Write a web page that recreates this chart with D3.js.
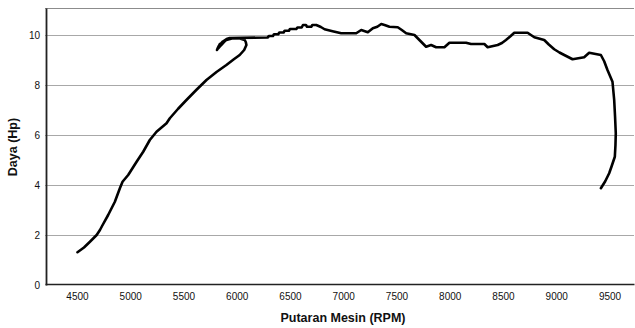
<!DOCTYPE html>
<html>
<head>
<meta charset="utf-8">
<script src="https://cdn.jsdelivr.net/npm/d3@7"></script>
<style>
  html, body { margin: 0; padding: 0; background: #fff; }
  svg { display: block; font-family: "Liberation Sans", Arial, sans-serif; }
</style>
</head>
<body>
<svg id="chart" width="635" height="328"></svg>
<script>
// Engine speed (RPM) and power (Hp), in the order they were logged
const rpm = [
  4505, 4566, 4622, 4685, 4716, 4741, 4793, 4856, 4903, 4928, 4981, 5060, 5122, 5184,
  5247, 5341, 5372, 5450, 5528, 5620, 5716, 5810, 5903, 5970, 6028, 6070, 6091, 6085,
  6075, 6030, 5963, 5903, 5841, 5815, 5822, 5831, 5860, 5887, 5910, 5880, 5850, 5826,
  5840, 5870, 5905, 5934,
  6290, 6303, 6340, 6350, 6390, 6400, 6440, 6450, 6490, 6500, 6560, 6570, 6610,
  6622, 6650, 6660, 6700, 6710, 6747,
  6790, 6825, 6900, 6981, 7122, 7169, 7231, 7278, 7320, 7357, 7388, 7434, 7512,
  7550, 7591, 7669, 7720, 7778, 7825, 7872, 7950, 7997, 8106, 8153, 8200, 8325,
  8356, 8450, 8490, 8528, 8570, 8606, 8731, 8794, 8887, 8930, 8981, 9030, 9075,
  9153, 9262, 9309, 9419, 9450, 9481, 9528, 9544, 9552, 9559, 9556, 9550, 9520,
  9497, 9460, 9419
];
const hp = [
  1.31, 1.50, 1.73, 2.00, 2.20, 2.40, 2.80, 3.33, 3.87, 4.13, 4.40, 4.93, 5.33, 5.80,
  6.13, 6.47, 6.67, 7.05, 7.40, 7.80, 8.20, 8.52, 8.80, 9.02, 9.20, 9.40, 9.60, 9.72,
  9.80, 9.86, 9.87, 9.80, 9.64, 9.40, 9.48, 9.56, 9.68, 9.76, 9.84, 9.72, 9.58, 9.46,
  9.60, 9.74, 9.84, 9.88,
  9.90, 9.96, 9.96, 10.03, 10.03, 10.10, 10.10, 10.17, 10.17, 10.24, 10.24, 10.30, 10.30,
  10.40, 10.40, 10.33, 10.33, 10.40, 10.40,
  10.32, 10.23, 10.15, 10.07, 10.07, 10.20, 10.11, 10.27, 10.33, 10.44, 10.40, 10.33, 10.31,
  10.20, 10.07, 10.00, 9.78, 9.53, 9.60, 9.51, 9.51, 9.69, 9.69, 9.69, 9.64, 9.64,
  9.51, 9.60, 9.68, 9.80, 9.95, 10.09, 10.09, 9.91, 9.80, 9.62, 9.43, 9.30, 9.20,
  9.03, 9.11, 9.29, 9.20, 8.95, 8.60, 8.13, 7.40, 6.75, 6.07, 5.60, 5.13, 4.75,
  4.47, 4.15, 3.87
];
const xTicks = [4500, 5000, 5500, 6000, 6500, 7000, 7500, 8000, 8500, 9000, 9500];
const yTicks = [0, 2, 4, 6, 8, 10];
const xTitle = "Putaran Mesin (RPM)";
const yTitle = "Daya (Hp)";

const svg = d3.select("#chart");
const plot = { left: 45, right: 634, top: 8, bottom: 285 };

const x = d3.scaleLinear().domain([4200, 9730]).range([plot.left, plot.right]);
const y = d3.scaleLinear().domain([0, 11.08]).range([plot.bottom, plot.top]);

// Horizontal grid lines and top border
svg.append("g")
  .selectAll("line")
  .data(yTicks.filter(d => d > 0))
  .join("line")
  .attr("x1", plot.left).attr("x2", plot.right)
  .attr("y1", d => Math.round(y(d)) + 0.5).attr("y2", d => Math.round(y(d)) + 0.5)
  .attr("stroke", "#a8a8a8").attr("stroke-width", 1);

svg.append("line")
  .attr("x1", plot.left).attr("x2", plot.right)
  .attr("y1", plot.top + 0.5).attr("y2", plot.top + 0.5)
  .attr("stroke", "#8c8c8c").attr("stroke-width", 1);

// Axes
const xAxis = svg.append("g")
  .attr("transform", `translate(0,${plot.bottom - 1})`)
  .call(d3.axisBottom(x).tickValues(xTicks).tickSize(0).tickPadding(9).tickFormat(d3.format("d")));
xAxis.select(".domain").attr("stroke", "#222").attr("stroke-width", 1.6);
xAxis.selectAll("text").attr("font-size", 10).attr("fill", "#111")
  .attr("font-family", "'Liberation Sans', Arial, sans-serif");

const yAxis = svg.append("g")
  .attr("transform", `translate(${plot.left + 1},0)`)
  .call(d3.axisLeft(y).tickValues(yTicks).tickSize(0).tickPadding(6).tickFormat(d3.format("d")));
yAxis.select(".domain").attr("stroke", "#222").attr("stroke-width", 1.8);
yAxis.selectAll("text").attr("font-size", 10).attr("fill", "#111")
  .attr("font-family", "'Liberation Sans', Arial, sans-serif");

// Power curve
const pts = rpm.map((r, i) => [r, hp[i]]);
svg.append("path")
  .datum(pts)
  .attr("fill", "none")
  .attr("stroke", "#000")
  .attr("stroke-width", 2.6)
  .attr("stroke-linejoin", "round")
  .attr("stroke-linecap", "round")
  .attr("d", d3.line().x(d => x(d[0])).y(d => y(d[1])));

// Axis titles
svg.append("text")
  .attr("x", 343).attr("y", 322)
  .attr("text-anchor", "middle")
  .attr("font-size", 12.5).attr("font-weight", "bold").attr("fill", "#111")
  .text(xTitle);

svg.append("text")
  .attr("transform", "translate(17,147) rotate(-90)")
  .attr("text-anchor", "middle")
  .attr("font-size", 12.5).attr("font-weight", "bold").attr("fill", "#111")
  .text(yTitle);
</script>
</body>
</html>
